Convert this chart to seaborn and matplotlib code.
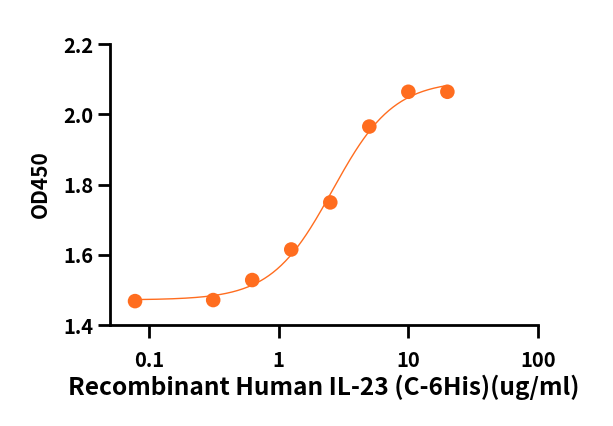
import numpy as np
import pandas as pd
import seaborn as sns
import matplotlib.pyplot as plt
from matplotlib.ticker import FixedLocator, FixedFormatter, NullLocator

# data
conc = [0.078, 0.3125, 0.625, 1.25, 2.5, 5, 10, 20]
od450 = [1.468, 1.471, 1.528, 1.615, 1.749, 1.965, 2.064, 2.064]
x_ticks = [0.1, 1, 10, 100]
x_tick_labels = ['0.1', '1', '10', '100']
y_ticks = [1.4, 1.6, 1.8, 2.0, 2.2]

ORANGE = '#ff6d1f'

sns.set_theme(style="ticks", rc={'text.color': 'black', 'axes.labelcolor': 'black',
                                 'xtick.color': 'black', 'ytick.color': 'black'})
plt.rcParams['font.family'] = ['Noto Sans CJK SC', 'DejaVu Sans']
plt.rcParams['font.weight'] = 'bold'

df = pd.DataFrame({'conc': conc, 'od450': od450})

# 4PL fit: linear in bottom/top, grid over ec50 and hill
x = np.array(conc, dtype=float)
y = np.array(od450, dtype=float)
best = None
for lec in np.linspace(-0.5, 1.5, 401):
    for h in np.linspace(0.5, 4, 351):
        s = 1 / (1 + (10 ** lec / x) ** h)
        A = np.column_stack([1 - s, s])
        coef, *_ = np.linalg.lstsq(A, y, rcond=None)
        err = np.sum((A @ coef - y) ** 2)
        if best is None or err < best[0]:
            best = (err, lec, h, coef)
_, lec, h, (bottom, top) = best
x_fit = np.logspace(np.log10(x.min()), np.log10(x.max()), 300)
y_fit = bottom + (top - bottom) / (1 + (10 ** lec / x_fit) ** h)
fit_df = pd.DataFrame({'conc': x_fit, 'od450': y_fit})

fig = plt.figure(figsize=(6.13, 4.26), dpi=100)
ax = fig.add_axes([110 / 613, 101 / 426, 428 / 613, 281 / 426])

sns.lineplot(data=fit_df, x='conc', y='od450', color=ORANGE, linewidth=1.0, ax=ax)
sns.scatterplot(data=df, x='conc', y='od450', color=ORANGE, s=110, edgecolor='none', ax=ax, zorder=3)

ax.set_xscale('log')
ax.set_xlim(0.05, 100)
ax.set_ylim(1.4, 2.2)
ax.xaxis.set_major_locator(FixedLocator(x_ticks))
ax.xaxis.set_major_formatter(FixedFormatter(x_tick_labels))
ax.xaxis.set_minor_locator(NullLocator())
ax.set_yticks(y_ticks)
ax.set_yticklabels([f'{v:.1f}' for v in y_ticks])

sns.despine(ax=ax)
for sp in ['left', 'bottom']:
    ax.spines[sp].set_linewidth(2)
    ax.spines[sp].set_color('black')
ax.tick_params(axis='both', width=2, length=9, color='black', labelsize=14.5, labelcolor='black', pad=3)
ax.tick_params(axis='x', pad=9)

ax.set_xlabel('Recombinant Human IL-23 (C-6His)(ug/ml)', fontsize=17.6, fontweight='bold', labelpad=3)
ax.set_ylabel('OD450', fontsize=15, fontweight='bold', labelpad=9)

fig.savefig('out.png', dpi=100)
plt.close(fig)
